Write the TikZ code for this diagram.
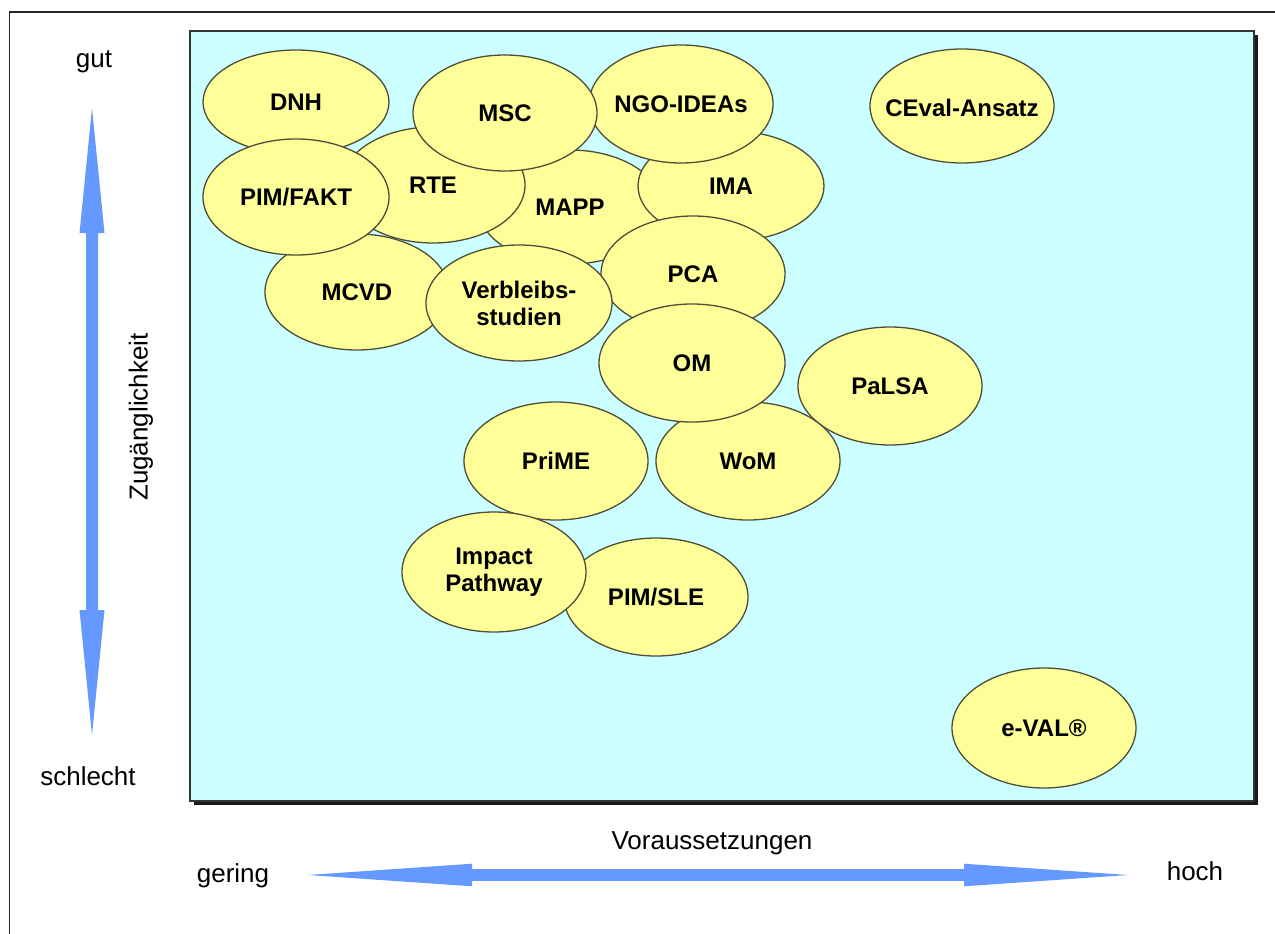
\documentclass[tikz,border=0pt]{standalone}
\usepackage{fontspec}
\setmainfont{Liberation Sans}
\usetikzlibrary{shapes.geometric}
\definecolor{panel}{HTML}{CCFFFF}
\definecolor{elfill}{HTML}{FFFF99}
\definecolor{elline}{HTML}{4D4D3A}
\definecolor{arrowblue}{HTML}{6699FF}
\begin{document}
\begin{tikzpicture}[x=1pt,y=-1pt,
  el/.style={ellipse, fill=elfill, draw=elline, line width=1.3pt, inner sep=0pt,
    minimum width=184pt, minimum height=116pt},
  eltext/.style={inner sep=0pt, font=\fontsize{24}{27}\selectfont\bfseries, align=center},
  lbl/.style={font=\fontsize{26}{30}\selectfont, inner sep=0pt},
  blockarrow/.style={fill=arrowblue, draw=none}]
\useasboundingbox (0,0) rectangle (1275,934);
% outer frame
\draw[line width=1.6pt, color=black!85] (9.5,934) -- (9.5,12) -- (1275,12);
% panel with shadow
\fill[black!90] (194,35) rectangle (1257.5,805);
\draw[fill=panel, draw=black!75!cyan!40!black, line width=2pt] (190,31) rectangle (1254,801);
% ellipses (drawing order = stacking order)
\node[el, minimum height=114pt] (mapp) at (570,207) {};
\node[eltext] (mapp-t) at (mapp.center) {MAPP};
\node[el] (rte) at (433,185) {};
\node[eltext] (rte-t) at (rte.center) {RTE};
\node[el, minimum width=186pt, minimum height=110pt] (ima) at (731,186) {};
\node[eltext] (ima-t) at (ima.center) {IMA};
\node[el, minimum height=118pt] (ngo) at (681,104) {};
\node[eltext] (ngo-t) at (ngo.center) {NGO-IDEAs};
\node[el] (msc) at (505,113) {};
\node[eltext] (msc-t) at (msc.center) {MSC};
\node[el, minimum width=186pt, minimum height=104pt] (dnh) at (296,102) {};
\node[eltext] (dnh-t) at (dnh.center) {DNH};
\node[el] (mcvd) at (357,292) {};
\node[eltext] (mcvd-t) at (mcvd.center) {MCVD};
\node[el, minimum width=186pt] (pimfakt) at (296,197) {};
\node[eltext] (pimfakt-t) at (pimfakt.center) {PIM/FAKT};
\node[el] (pca) at (693,274) {};
\node[eltext] (pca-t) at (pca.center) {PCA};
\node[el, minimum width=186pt] (verb) at (519,303) {};
\node[eltext] (verb-t) at (verb.center) {Verbleibs-\\studien};
\node[el, minimum height=118pt] (palsa) at (890,386) {};
\node[eltext] (palsa-t) at (palsa.center) {PaLSA};
\node[el, minimum height=118pt] (wom) at (748,461) {};
\node[eltext] (wom-t) at (wom.center) {WoM};
\node[el, minimum width=186pt, minimum height=118pt] (om) at (692,363) {};
\node[eltext] (om-t) at (om.center) {OM};
\node[el, minimum height=118pt] (prime) at (556,461) {};
\node[eltext] (prime-t) at (prime.center) {PriME};
\node[el, minimum height=118pt] (pimsle) at (656,597) {};
\node[eltext] (pimsle-t) at (pimsle.center) {PIM/SLE};
\node[el, minimum height=120pt] (impact) at (494,572) {};
\node[eltext] (impact-t) at (impact.center) {Impact\\Pathway};
\node[el, minimum height=114pt] (ceval) at (962,106) {};
\node[eltext] (ceval-t) at ([yshift=-2pt]ceval.center) {CEval-Ansatz};
\node[el, minimum height=120pt] (eval) at (1044,728) {};
\node[eltext] (eval-t) at (eval.center) {e-VAL®};
% vertical double arrow
\coordinate (vtop) at (92,108);
\coordinate (vbot) at (92,735);
\fill[blockarrow] (vtop) -- (104.5,233) -- (98,233) -- (98,610) -- (104.5,610) -- (vbot)
  -- (79.5,610) -- (86,610) -- (86,233) -- (79.5,233) -- cycle;
% horizontal double arrow
\coordinate (hleft) at (308,875);
\coordinate (hright) at (1128,875);
\fill[blockarrow] (hleft) -- (472,863.7) -- (472,869.2) -- (964,869.2) -- (964,863.7) -- (hright)
  -- (964,886.3) -- (964,880.8) -- (472,880.8) -- (472,886.3) -- cycle;
% axis labels
\node[lbl, anchor=base] (gut) at (94,68) {gut};
\node[lbl, anchor=base] (schlecht) at (88,785) {schlecht};
\node[lbl, rotate=90] (zug) at (141,417) {Zugänglichkeit};
\node[lbl, anchor=base] (vor) at (712,849) {Voraussetzungen};
\node[lbl, anchor=base] (gering) at (233,882) {gering};
\node[lbl, anchor=base] (hoch) at (1195,880) {hoch};
\end{tikzpicture}
\end{document}
